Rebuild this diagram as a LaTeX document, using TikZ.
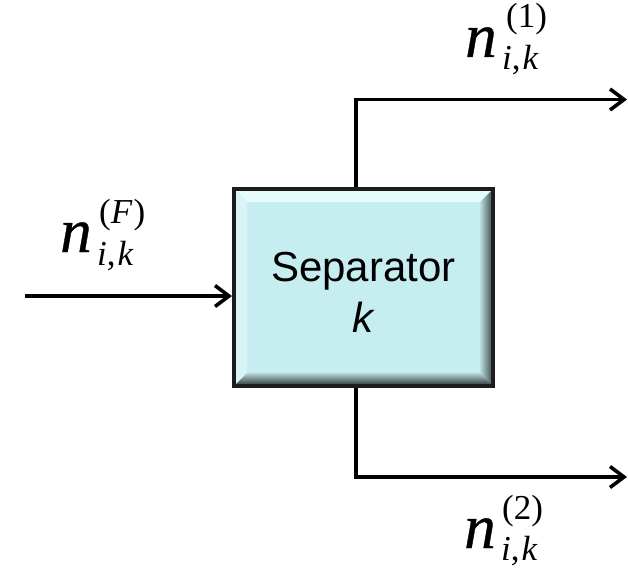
\documentclass[tikz,border=0pt]{standalone}
\usepackage{fontspec}
\setmainfont{Liberation Serif}
\newfontfamily\arialf{Liberation Sans}
\newfontface\nface{Liberation Serif Italic}[FakeBold=0.6]
\usetikzlibrary{arrows.meta,calc}

\definecolor{boxfill}{HTML}{C6EEF0}
\definecolor{boxline}{HTML}{1C1C1C}
\definecolor{bevtop}{HTML}{E6FBFB}
\definecolor{bevleft}{HTML}{D8F4F5}

\begin{document}
\begin{tikzpicture}[x=1pt,y=-1pt,
  flow/.style={line width=3.8pt,
    -{Straight Barb[length=14pt,width=21pt,line width=3.6pt]}},
  sepbox/.style={draw=boxline, line width=4pt, fill=boxfill,
    minimum width=259pt, minimum height=197pt, inner sep=0pt},
  boxtext/.style={font=\arialf\fontsize{42}{51}\selectfont, align=center, inner sep=0pt},
  nbig/.style={font=\nface\fontsize{63}{63}\selectfont, inner sep=0pt, anchor=base west},
  nscript/.style={font=\fontsize{35}{35}\selectfont, inner sep=0pt, anchor=base west}]

\useasboundingbox (0,0) rectangle (628,567);

% separator block
\node[sepbox] (sep) at (363.5,287.5) {};

% bevelled rim inside the block
\coordinate (inw) at ($(sep.north west)+(4,4)$);
\coordinate (ine) at ($(sep.north east)+(-4,4)$);
\coordinate (isw) at ($(sep.south west)+(4,-4)$);
\coordinate (ise) at ($(sep.south east)+(-4,-4)$);
\coordinate (bnw) at ($(inw)+(11,11)$);
\coordinate (bne) at ($(ine)+(-11,11)$);
\coordinate (bsw) at ($(isw)+(11,-11)$);
\coordinate (bse) at ($(ise)+(-11,-11)$);
\fill[bevtop] (inw) -- (ine) -- (bne) -- (bnw) -- cycle;
\fill[bevleft] (inw) -- (bnw) -- (bsw) -- (isw) -- cycle;
\shade[left color=boxfill!85!gray, right color=boxfill!40!black]
  (ine) -- (ise) -- (bse) -- (bne) -- cycle;
\shade[top color=boxfill!80!gray, bottom color=boxfill!30!black]
  (isw) -- (ise) -- (bse) -- (bsw) -- cycle;

\node[boxtext] (lbl) at ($(sep.center)+(0,4.5)$) {Separator\\\textit{k}};

% streams
\coordinate (feed) at (25,296);
\coordinate (tap) at (356,0);
\coordinate (out1) at (627,99.5);
\coordinate (out2) at (627,477);

\draw[flow] (feed) -- (sep.west |- feed);
\draw[flow] (sep.north -| tap) |- (out1);
\draw[flow] (sep.south -| tap) |- (out2);

% stream labels
\node[nbig] (nF) at (60,252) {n};
\node[nscript] (nFsup) at ($(nF.base west)+(39,-29)$) {(\textit{F}\kern1pt)};
\node[nscript] (nFsub) at ($(nF.base west)+(37,13)$) {\textit{i},\kern2pt\textit{k}};

\node[nbig] (n1) at (465,57) {n};
\node[nscript] (n1sup) at ($(n1.base west)+(41,-29)$) {(1)};
\node[nscript] (n1sub) at ($(n1.base west)+(37,13)$) {\textit{i},\kern2pt\textit{k}};

\node[nbig] (n2) at (464,548) {n};
\node[nscript] (n2sup) at ($(n2.base west)+(38,-29)$) {(2)};
\node[nscript] (n2sub) at ($(n2.base west)+(37,12)$) {\textit{i},\kern2pt\textit{k}};

\end{tikzpicture}
\end{document}
